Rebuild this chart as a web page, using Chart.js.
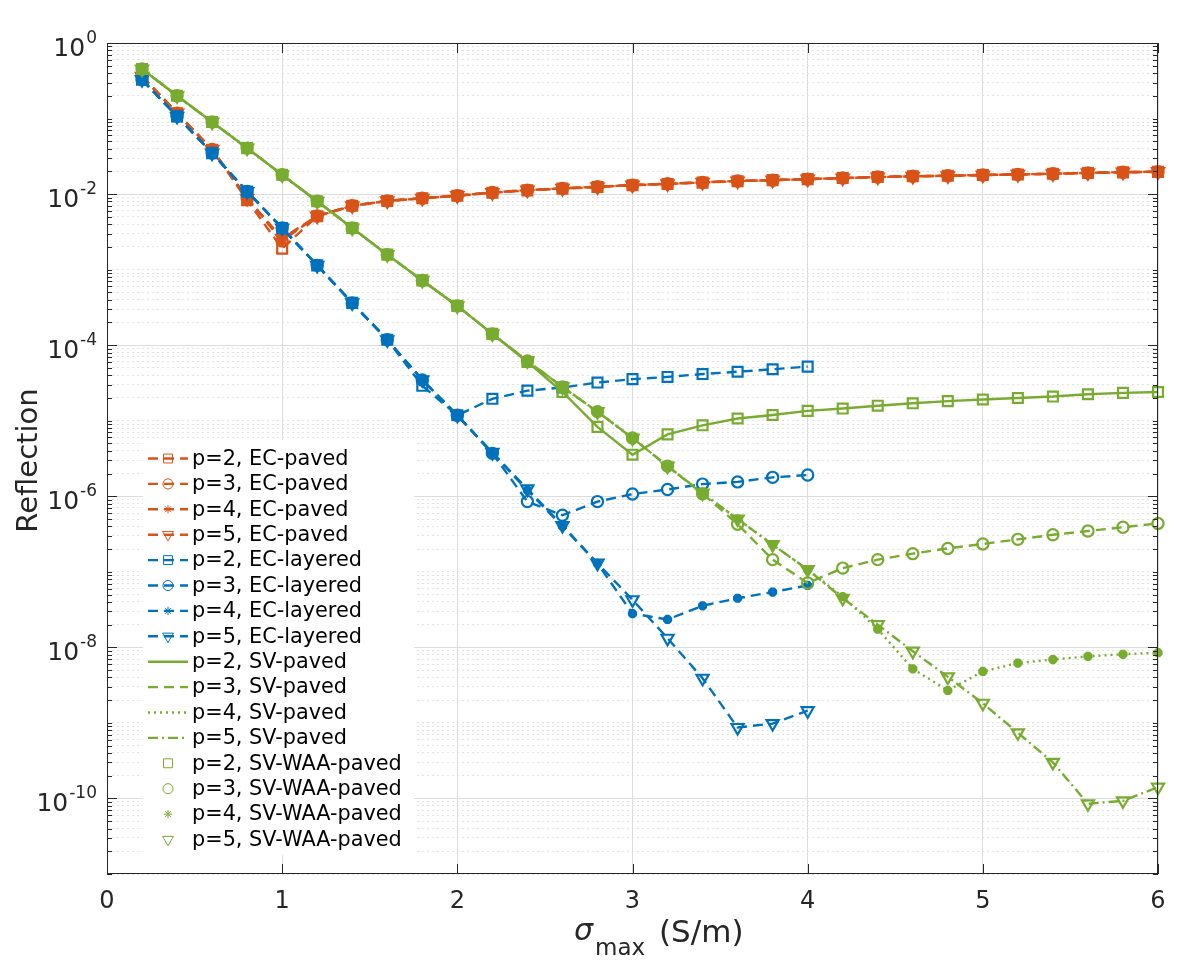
<!DOCTYPE html>
<html>
<head>
<meta charset="utf-8">
<script src="https://cdn.jsdelivr.net/npm/chart.js@4.4.1/dist/chart.umd.min.js"></script>
<style>
  html, body { margin: 0; padding: 0; background: #fff; }
  #wrap { width: 1195px; height: 973px; }
</style>
</head>
<body>
<div id="wrap"><canvas id="chart" width="1195" height="973"></canvas></div>
<script>
// sigma_max values (S/m)
const sigma = [0.2, 0.4, 0.6, 0.8, 1.0, 1.2, 1.4, 1.6, 1.8, 2.0, 2.2, 2.4, 2.6, 2.8, 3.0,
               3.2, 3.4, 3.6, 3.8, 4.0, 4.2, 4.4, 4.6, 4.8, 5.0, 5.2, 5.4, 5.6, 5.8, 6.0];
const sigmaLayered = [0.2, 0.4, 0.6, 0.8, 1.0, 1.2, 1.4, 1.6, 1.8, 2.0,
                      2.2, 2.4, 2.6, 2.8, 3.0, 3.2, 3.4, 3.6, 3.8, 4.0];

// EC-paved
const ecPavedP2 = [0.36, 0.117, 0.0385, 0.0083, 0.0019, 0.0051, 0.0070, 0.0081, 0.0088, 0.0095,
                   0.0104, 0.0112, 0.0118, 0.0124, 0.0131, 0.0136, 0.0142, 0.0148, 0.0153, 0.0158,
                   0.0163, 0.0168, 0.0172, 0.0175, 0.0179, 0.0182, 0.0186, 0.0190, 0.0194, 0.0197];
const ecPavedP3 = [0.363, 0.118, 0.0389, 0.0088, 0.0024, 0.00513, 0.0070, 0.00813, 0.0088, 0.00955,
                   0.0105, 0.0113, 0.0119, 0.0125, 0.01315, 0.0137, 0.0143, 0.0149, 0.0153, 0.0158,
                   0.0163, 0.0168, 0.0172, 0.0175, 0.0179, 0.0182, 0.0186, 0.0191, 0.0195, 0.0198];
const ecPavedP4 = [0.363, 0.118, 0.0389, 0.0088, 0.0025, 0.00513, 0.0070, 0.00813, 0.0088, 0.00955,
                   0.0105, 0.0113, 0.0119, 0.0125, 0.01315, 0.0137, 0.0143, 0.0149, 0.0153, 0.0158,
                   0.0163, 0.0168, 0.0172, 0.0175, 0.0179, 0.0182, 0.0186, 0.0191, 0.0195, 0.0198];
const ecPavedP5 = [0.363, 0.118, 0.0389, 0.0088, 0.0026, 0.00513, 0.0070, 0.00813, 0.0088, 0.00955,
                   0.0105, 0.0113, 0.0119, 0.0125, 0.01315, 0.0137, 0.0143, 0.0149, 0.0153, 0.0158,
                   0.0163, 0.0168, 0.0172, 0.0175, 0.0179, 0.0182, 0.0186, 0.0191, 0.0195, 0.0198];

// EC-layered (up to 4 S/m)
const ecLayeredP2 = [0.327, 0.107, 0.0349, 0.0108, 0.00355, 0.00114, 3.63e-4, 1.18e-4, 2.9e-5, 1.18e-5,
                     1.95e-5, 2.5e-5, 2.75e-5, 3.2e-5, 3.55e-5, 3.8e-5, 4.15e-5, 4.45e-5, 4.8e-5, 5.2e-5];
const ecLayeredP3 = [0.327, 0.107, 0.0349, 0.0108, 0.00355, 0.00114, 3.63e-4, 1.18e-4, 3.47e-5, 1.18e-5,
                     3.7e-6, 8.5e-7, 5.6e-7, 8.5e-7, 1.07e-6, 1.23e-6, 1.45e-6, 1.55e-6, 1.78e-6, 1.91e-6];
const ecLayeredP4 = [0.327, 0.107, 0.0349, 0.0108, 0.00355, 0.00114, 3.63e-4, 1.18e-4, 3.47e-5, 1.18e-5,
                     3.7e-6, 1.2e-6, 4.0e-7, 1.29e-7, 2.8e-8, 2.34e-8, 3.55e-8, 4.47e-8, 5.4e-8, 6.6e-8];
const ecLayeredP5 = [0.327, 0.107, 0.0349, 0.0108, 0.00355, 0.00114, 3.63e-4, 1.18e-4, 3.47e-5, 1.18e-5,
                     3.8e-6, 1.25e-6, 4.1e-7, 1.3e-7, 4.27e-8, 1.32e-8, 3.9e-9, 8.7e-10, 9.8e-10, 1.45e-9];

// SV-paved (the SV-WAA-paved markers sit on the same values)
const svPavedP2 = [0.453, 0.200, 0.0899, 0.0406, 0.0180, 0.00804, 0.00355, 0.00158, 7.2e-4, 3.31e-4,
                   1.41e-4, 6.0e-5, 2.4e-5, 8.3e-6, 3.55e-6, 6.6e-6, 8.7e-6, 1.07e-5, 1.19e-5, 1.35e-5,
                   1.45e-5, 1.58e-5, 1.70e-5, 1.82e-5, 1.91e-5, 2.0e-5, 2.09e-5, 2.24e-5, 2.34e-5, 2.40e-5];
const svPavedP3 = [0.453, 0.200, 0.0899, 0.0406, 0.0180, 0.00804, 0.00355, 0.00158, 7.2e-4, 3.31e-4,
                   1.41e-4, 6.2e-5, 2.8e-5, 1.32e-5, 5.9e-6, 2.51e-6, 1.08e-6, 4.27e-7, 1.45e-7, 7.1e-8,
                   1.12e-7, 1.45e-7, 1.74e-7, 2.04e-7, 2.34e-7, 2.69e-7, 3.09e-7, 3.47e-7, 3.89e-7, 4.37e-7];
const svPavedP4 = [0.453, 0.200, 0.0899, 0.0406, 0.0180, 0.00804, 0.00355, 0.00158, 7.2e-4, 3.31e-4,
                   1.41e-4, 6.2e-5, 2.8e-5, 1.32e-5, 5.9e-6, 2.51e-6, 1.1e-6, 5.0e-7, 2.29e-7, 1.07e-7,
                   4.7e-8, 1.74e-8, 5.2e-9, 2.69e-9, 4.8e-9, 6.2e-9, 6.9e-9, 7.6e-9, 8.1e-9, 8.5e-9];
const svPavedP5 = [0.453, 0.200, 0.0899, 0.0406, 0.0180, 0.00804, 0.00355, 0.00158, 7.2e-4, 3.31e-4,
                   1.41e-4, 6.2e-5, 2.8e-5, 1.32e-5, 5.9e-6, 2.51e-6, 1.1e-6, 5.0e-7, 2.29e-7, 1.07e-7,
                   4.47e-8, 2.0e-8, 8.9e-9, 4.07e-9, 1.82e-9, 7.4e-10, 3.0e-10, 8.5e-11, 9.3e-11, 1.41e-10];

const xTickLabels = [0, 1, 2, 3, 4, 5, 6];
const yTickExponents = [0, -2, -4, -6, -8, -10];

const ORANGE = '#D95319', BLUE = '#0072BD', GREEN = '#77AC30';
const DASH = [10, 6], DOT = [2, 4], DASHDOT = [10, 4, 2, 4];

// marker: [pointStyle, radius, rotation, borderWidth]
const MK = {
  sq:  ['rect', 7, 0, 2.2],
  ci:  ['circle', 5.6, 0, 2.2],
  st:  ['star', 4.6, 0, 3.4],
  tri: ['triangle', 7, 180, 2.2]
};

function series(label, xs, ys, color, dash, mk) {
  return {
    label: label,
    data: xs.map((x, i) => ({ x: x, y: ys[i] })),
    borderColor: color,
    backgroundColor: 'rgba(0,0,0,0)',
    borderWidth: 2.4,
    borderDash: dash || [],
    showLine: dash !== null,
    pointStyle: mk ? mk[0] : 'circle',
    pointRadius: mk ? mk[1] : 0,
    pointRotation: mk ? mk[2] : 0,
    pointBorderWidth: mk ? mk[3] : 0,
    pointBorderColor: color,
    pointBackgroundColor: 'rgba(0,0,0,0)',
    tension: 0,
    clip: false
  };
}

const datasets = [
  series('p=2, EC-paved', sigma, ecPavedP2, ORANGE, DASH, MK.sq),
  series('p=3, EC-paved', sigma, ecPavedP3, ORANGE, DASH, MK.ci),
  series('p=4, EC-paved', sigma, ecPavedP4, ORANGE, DASH, MK.st),
  series('p=5, EC-paved', sigma, ecPavedP5, ORANGE, DASH, MK.tri),
  series('p=2, EC-layered', sigmaLayered, ecLayeredP2, BLUE, DASH, MK.sq),
  series('p=3, EC-layered', sigmaLayered, ecLayeredP3, BLUE, DASH, MK.ci),
  series('p=4, EC-layered', sigmaLayered, ecLayeredP4, BLUE, DASH, MK.st),
  series('p=5, EC-layered', sigmaLayered, ecLayeredP5, BLUE, DASH, MK.tri),
  series('p=2, SV-paved', sigma, svPavedP2, GREEN, [], null),
  series('p=3, SV-paved', sigma, svPavedP3, GREEN, DASH, null),
  series('p=4, SV-paved', sigma, svPavedP4, GREEN, DOT, null),
  series('p=5, SV-paved', sigma, svPavedP5, GREEN, DASHDOT, null),
  series('p=2, SV-WAA-paved', sigma, svPavedP2, GREEN, null, MK.sq),
  series('p=3, SV-WAA-paved', sigma, svPavedP3, GREEN, null, MK.ci),
  series('p=4, SV-WAA-paved', sigma, svPavedP4, GREEN, null, MK.st),
  series('p=5, SV-WAA-paved', sigma, svPavedP5, GREEN, null, MK.tri)
];
// later series drawn on top, as in the original
datasets.forEach((d, i) => { d.order = -i; });

// log grid: every k*10^n
const yGrid = [];
for (let n = -11; n < 0; n++) {
  for (let k = 1; k <= 9; k++) yGrid.push(k * Math.pow(10, n));
}
yGrid.push(1);
const isMajorY = v => {
  const e = Math.log10(v);
  return Math.abs(e - Math.round(e)) < 1e-9 && Math.round(e) % 2 === 0;
};

const decor = {
  id: 'decor',
  afterDraw(chart) {
    const ctx = chart.ctx;
    const a = chart.chartArea;
    const xs = chart.scales.x, ys = chart.scales.y;
    ctx.save();
    // axes box + inward ticks
    ctx.strokeStyle = '#262626';
    ctx.lineWidth = 1;
    ctx.strokeRect(a.left + 0.5, a.top + 0.5, a.right - a.left - 1, a.bottom - a.top - 1);
    ctx.beginPath();
    xTickLabels.forEach(v => {
      const px = Math.round(xs.getPixelForValue(v)) + 0.5;
      ctx.moveTo(px, a.bottom); ctx.lineTo(px, a.bottom - 10);
      ctx.moveTo(px, a.top); ctx.lineTo(px, a.top + 10);
    });
    yGrid.forEach(v => {
      const py = Math.round(ys.getPixelForValue(v)) + 0.5;
      const len = isMajorY(v) ? 10 : 5;
      ctx.moveTo(a.left, py); ctx.lineTo(a.left + len, py);
      ctx.moveTo(a.right, py); ctx.lineTo(a.right - len, py);
    });
    ctx.stroke();

    // tick labels
    ctx.fillStyle = '#262626';
    ctx.font = '24px "DejaVu Sans"';
    ctx.textAlign = 'center';
    ctx.textBaseline = 'alphabetic';
    xTickLabels.forEach(v => ctx.fillText(String(v), xs.getPixelForValue(v), 908));
    ctx.textAlign = 'right';
    yTickExponents.forEach(e => {
      const py = ys.getPixelForValue(Math.pow(10, e));
      ctx.font = '17px "DejaVu Sans"';
      const sup = String(e);
      const w = ctx.measureText(sup).width;
      ctx.fillText(sup, 97, py);
      ctx.font = '25px "DejaVu Sans"';
      ctx.fillText('10', 97 - w - 1, py + 13);
    });

    // axis titles
    ctx.save();
    ctx.translate(37, (a.top + a.bottom) / 2 + 2);
    ctx.rotate(-Math.PI / 2);
    ctx.textAlign = 'center';
    ctx.font = '29px "DejaVu Sans"';
    ctx.fillText('Reflection', 0, 0);
    ctx.restore();
    ctx.textAlign = 'left';
    ctx.font = 'italic 30px "DejaVu Sans"';
    ctx.fillText('σ', 574, 940);
    ctx.font = '23px "DejaVu Sans"';
    ctx.fillText('max', 595, 955);
    ctx.font = '31px "DejaVu Sans"';
    ctx.fillText('(S/m)', 659, 942);

    // legend
    ctx.fillStyle = '#fff';
    ctx.fillRect(143, 440, 271, 415);
    ctx.font = '20.8px "DejaVu Sans"';
    ctx.textBaseline = 'middle';
    chart.data.datasets.forEach((d, i) => {
      const y = 458.5 + i * 25.4;
      if (d.showLine) {
        ctx.save();
        ctx.strokeStyle = d.borderColor;
        ctx.lineWidth = d.borderWidth;
        ctx.setLineDash(d.borderDash);
        ctx.beginPath();
        ctx.moveTo(148, y); ctx.lineTo(188, y);
        ctx.stroke();
        ctx.restore();
      }
      if (d.pointRadius > 0) {
        ctx.save();
        ctx.strokeStyle = d.pointBorderColor;
        ctx.fillStyle = d.pointBackgroundColor;
        Chart.helpers.drawPoint(ctx, {
          pointStyle: d.pointStyle, rotation: d.pointRotation,
          radius: d.pointRadius * 0.9, borderWidth: d.pointBorderWidth
        }, 168, y);
        ctx.restore();
      }
      ctx.fillStyle = '#000';
      ctx.fillText(d.label, 192, y + 1);
    });
    ctx.restore();
  }
};

new Chart(document.getElementById('chart'), {
  type: 'line',
  data: { datasets: datasets },
  options: {
    responsive: false,
    animation: false,
    devicePixelRatio: 1,
    layout: { padding: { left: 107, top: 43, right: 37, bottom: 99 } },
    plugins: { legend: { display: false }, tooltip: { enabled: false } },
    scales: {
      x: {
        type: 'linear', min: 0, max: 6,
        ticks: { display: false, stepSize: 1 },
        grid: { color: '#dcdcdc', lineWidth: 1, drawTicks: false },
        border: { display: false }
      },
      y: {
        type: 'logarithmic', min: 1e-11, max: 1,
        afterBuildTicks: axis => { axis.ticks = yGrid.map(v => ({ value: v })); },
        ticks: { display: false },
        grid: {
          drawTicks: false, lineWidth: 1,
          color: c => isMajorY(c.tick.value) ? '#dcdcdc' : '#e2e2e2'
        },
        border: { display: false, dash: c => (c.tick && isMajorY(c.tick.value)) ? [] : [2, 3] }
      }
    }
  },
  plugins: [decor]
});
</script>
</body>
</html>
